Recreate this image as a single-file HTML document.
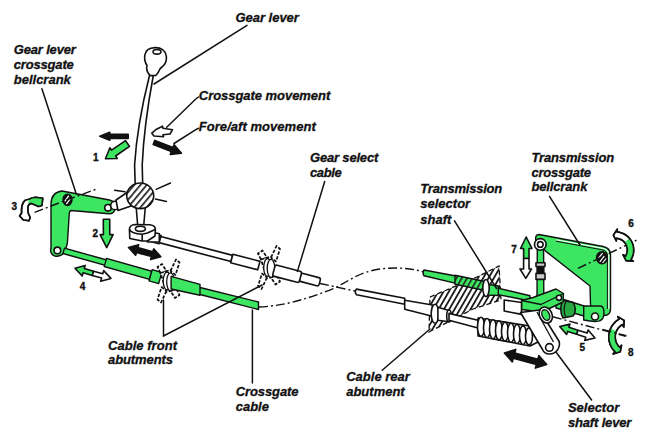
<!DOCTYPE html>
<html><head><meta charset="utf-8">
<style>
html,body{margin:0;padding:0;background:#fff;}
body{width:650px;height:438px;overflow:hidden;}
svg{display:block;}
.t{font-family:"Liberation Sans",sans-serif;font-style:italic;font-weight:bold;font-size:13px;fill:#111;stroke:#111;stroke-width:0.3;}
.n{font-family:"Liberation Sans",sans-serif;font-weight:bold;font-size:10px;fill:#111;stroke:#111;stroke-width:0.35;}
.ln{stroke:#111;stroke-width:1.5;fill:none;stroke-linecap:round;}
.ol{stroke:#111;stroke-width:1.6;stroke-linejoin:round;}
.g{fill:#3ce660;}
.ol .g{stroke-width:1.4;}
.w{fill:#fff;}
.k{fill:#111;}
.dd{stroke:#111;stroke-width:1.4;fill:none;stroke-dasharray:9 3 2 3;}
</style></head>
<body>
<svg width="650" height="438" viewBox="0 0 650 438">
<defs>
<pattern id="hat" patternUnits="userSpaceOnUse" width="4" height="4" patternTransform="rotate(-45)">
<rect width="4" height="4" fill="#fff"/><rect width="1.6" height="4" fill="#111"/>
</pattern>
<pattern id="hatF" patternUnits="userSpaceOnUse" width="4.8" height="4.8" patternTransform="rotate(40)">
<rect width="4.8" height="4.8" fill="#fff"/><rect width="1.7" height="4.8" fill="#222"/>
</pattern>
<pattern id="hatR" patternUnits="userSpaceOnUse" width="4.6" height="4.6" patternTransform="rotate(30)">
<rect width="4.6" height="4.6" fill="#fff"/><rect width="1.8" height="4.6" fill="#1a1a1a"/>
</pattern>
<pattern id="hatG" patternUnits="userSpaceOnUse" width="4.6" height="4.6" patternTransform="rotate(30)">
<rect width="4.6" height="4.6" fill="#3ce660"/><rect width="1.5" height="4.6" fill="#1a1a1a"/>
</pattern>
<pattern id="hat2" patternUnits="userSpaceOnUse" width="5" height="5" patternTransform="rotate(30)">
<rect width="5" height="5" fill="#fff"/><rect width="1.5" height="5" fill="#222"/>
</pattern>
</defs>

<!-- ===== LEFT BELLCRANK ===== -->
<g class="ol">
<path class="g" d="M62,191 L109.5,200 C114,201 116,205 115,209 C114,212.5 112,214 109,213.8 L71,210.5 Q69.5,211 69.3,213 L67.4,243 L66,248 C65,254 60,257 55,256 C51,255 50,251 51,248 L51,204 C51,197 54,192 62,191 Z"/>
<ellipse cx="67.5" cy="199.8" rx="4.4" ry="5.6" fill="#111"/>
<path d="M64.8,201.3 L68.8,195.6 M66.4,204.2 L70.4,198.5" stroke="#fff" stroke-width="1.3" fill="none"/>
<circle class="w" cx="108" cy="207.8" r="3.3"/>
<circle class="w" cx="57.4" cy="250.4" r="3.3"/>
<circle class="w" cx="115" cy="205.5" r="4.3"/>
</g>

<!-- ===== FRONT GREEN CROSSGATE ROD ===== -->
<g class="ol" transform="translate(66.6,251.6) rotate(15.75)">
<rect class="g" x="-3" y="-2.8" width="44" height="5.6"/>
<rect class="g" x="40.3" y="-4.2" width="47" height="8.4"/>
<rect class="g" x="87.3" y="-5.8" width="10" height="11.6"/>
</g>

<!-- ===== GEAR SELECT CABLE (white) ===== -->
<g class="ol" transform="translate(160,239.6) rotate(14.73)">
<rect class="w" x="-13.5" y="-4.3" width="13.5" height="8.6"/>
<rect class="w" x="0" y="-3.2" width="74.2" height="6.4"/>
<rect class="w" x="74.2" y="-4.4" width="28" height="8.8"/>
</g>

<!-- ===== FRONT ABUTMENTS ===== -->
<defs>
<g id="abut">
<g fill="#fff" stroke="#111" stroke-width="1.7" stroke-dasharray="3.5 1.5" stroke-linejoin="round">
<path d="M-8,-8 L-11,-14 L-6.5,-17 L-2,-10 Z"/>
<path d="M8,8 L11,14 L6.5,17 L2,10 Z"/>
<path d="M2,-10 L7.5,-21.5 L11,-18.5 L7,-6 Z"/>
<path d="M-2,10 L-7.5,21.5 L-11,18.5 L-7,6 Z"/>
<path d="M-8,-8 L2,-11 L8,8 L-2,11 Z"/>
</g>
<ellipse cx="-1.5" cy="0" rx="3.8" ry="9" fill="#fff" stroke="#111" stroke-width="1.3"/>
<ellipse cx="2" cy="0.8" rx="3.8" ry="9" fill="#fff" stroke="#111" stroke-width="1.3"/>
</g>
</defs>
<use href="#abut" x="168.5" y="281"/>
<use href="#abut" x="269" y="267.5"/>
<g class="ol">
<path class="g" d="M199,287.2 L258.5,302 L258.5,309.5 L199,294.3 Z"/>
<path class="g" d="M171.1,276.3 L200,284.3 L200,295.2 L171.1,289 Z"/>
</g>
<g class="ol" transform="translate(160,239.6) rotate(14.73)">
<rect class="w" x="145.1" y="-3.6" width="20.2" height="8.4" rx="2"/>
<rect class="w" x="117.9" y="-5" width="27.5" height="11.5" rx="2"/>
</g>

<!-- ===== DASH-DOT CABLE PATHS ===== -->
<path class="dd" d="M259,307 C285,306 310,298 335,288 C350,280 360,272 380,269 C395,267 410,268 424,272"/>
<path class="dd" d="M320,283.5 L355,291"/>

<!-- ===== REAR HATCHED ABUTMENT ===== -->
<path d="M430,297 L477,277 L499,266 L501,300 L473,309 L429,332 Z" fill="url(#hatR)" stroke="#111" stroke-width="1.3" stroke-dasharray="5 3"/>

<!-- ===== RIGHT GREEN SELECTOR ROD (upper) ===== -->
<g class="ol">
<path class="g" d="M424,270 L456,276 L456,283.4 L424,275.8 Q422,273 424,270 Z"/>
<path d="M455,275.3 L485,281.5 L485,290.5 L455,284.3 Z" fill="url(#hatG)" stroke-width="1.4"/>
<path class="g" d="M498.3,288.2 L530,295.8 L530,301 L498.3,294.6 Z"/>
<path class="g" d="M487,284.2 L498.3,286 L498.3,295.5 L487,295 Z"/>
<ellipse class="w" cx="486" cy="288" rx="3.2" ry="8.5"/>
</g>


<!-- ===== REAR WHITE CABLE ===== -->
<g class="ol">
<path class="w" d="M356.5,289.1 L404.7,298.2 L404.7,304.2 L356.5,294.8 Q354,292 356.5,289.1 Z"/>
<path class="w" d="M404.7,300.2 L432.4,305 L432.4,316.2 L404.7,309.2 Z"/>
<ellipse class="w" cx="435" cy="313.8" rx="3.8" ry="9.5"/>
<path class="w" d="M437.9,307.2 L449,310.6 L449,321.7 L437.9,320.3 Z"/>
<ellipse class="w" cx="449" cy="316" rx="2.3" ry="6"/>
<path class="w" d="M449,313.4 L478,320.3 L478,327.9 L449,320.3 Z"/>
</g>

<!-- ===== BELLOWS ===== -->
<g class="ol" stroke-width="1.3">
<path class="w" d="M478,318 L530,326 L540,334 L538,342 L530,346 L478,336 Z"/>
<ellipse class="w" cx="481" cy="326.8" rx="3.5" ry="9.5"/>
<ellipse class="w" cx="487" cy="328" rx="3.5" ry="9.5"/>
<ellipse class="w" cx="493" cy="329.2" rx="3.5" ry="9.5"/>
<ellipse class="w" cx="499" cy="330.4" rx="3.5" ry="9.5"/>
<ellipse class="w" cx="505" cy="331.6" rx="3.5" ry="9.5"/>
<ellipse class="w" cx="511" cy="332.8" rx="3.5" ry="9.5"/>
<ellipse class="w" cx="517" cy="334" rx="3.5" ry="9.5"/>
<ellipse class="w" cx="523" cy="335.2" rx="3.5" ry="9.3"/>
<ellipse class="w" cx="529" cy="336.4" rx="3.5" ry="8.5"/>
</g>

<!-- ===== RIGHT BELLCRANK PLATE ===== -->
<g class="ol">
<path class="g" d="M539,234.5 L603,246.5 C608,247.5 610.5,250 610.5,255 L610.5,309 C610.5,313 608,315.5 604,315.5 L592,314 L590.5,304 L590,286 L546.2,251.6 L536,242 C535,237 536,234.5 539,234.5 Z"/>
<ellipse cx="602" cy="257.8" rx="5.4" ry="5.9" fill="#111"/>
<path d="M598.3,258.5 L602.5,253.2 M599.8,261.8 L605,255.2 M602.6,263 L606.2,258.5" stroke="#fff" stroke-width="1.2" fill="none"/>
<path d="M556,239.7 L602.5,248.3 C606.5,249.1 608.8,251.2 608.8,255.2 L608.8,309" fill="none" stroke="#fff" stroke-width="1.1"/>
<path d="M556,241.2 L602,249.8 C605.5,250.6 607.4,252.3 607.4,255.7 L607.4,309" fill="none" stroke="#111" stroke-width="1"/>
<!-- vertical link -->
<path class="g" d="M537.3,249 L543.6,249 L543.8,297 L537,297 Z"/>
<rect class="k" x="537.5" y="266.5" width="6" height="7"/>
<rect fill="#ccc" x="536" y="262.7" width="9" height="3.8"/>
<rect fill="#ccc" x="536" y="273.4" width="9" height="6"/>
<circle class="w" cx="540.3" cy="244.4" r="5.8"/>
<circle class="w" cx="540.3" cy="244.4" r="2.8"/>
<!-- lower rod end & nut -->
<path class="g" d="M556,297 L584,306 L584,316 L556,308 Z"/>
<path class="g" d="M583.7,306 L600,306 C604,306 605,312 603,318 C601,322 596,322 590,321 L583.7,320 Z"/>
<circle class="w" cx="595" cy="316.5" r="3.5"/>
<path d="M563,300.5 L573,302.5 C576,306 576,313 573,316 L563,318 C560,313 560,305 563,300.5 Z" fill="#27a842"/>
<path d="M566,301.5 C563.5,306 563.5,313 566,317.5" fill="none" stroke-width="1.2"/>
<!-- selector lever hub block -->
<path class="g" d="M521.5,300.5 L533,297.5 L556,289 L563.5,293.5 L563,302 L542,312 L521.5,309.5 Z"/>
<path d="M521.5,300.5 L541,304.5 L563.5,293.5" fill="none" stroke-width="1.3"/>
<circle class="w" cx="559" cy="297.8" r="2.6"/>
<!-- white block -->
<path class="w" d="M504.2,300 L521.5,302.5 L521.5,314.4 L504.2,311 Z"/>
<!-- selector shaft lever arm -->
<path class="w" d="M520.5,312.5 L539.5,310 L559.2,341.5 C560.5,348 556,354 549.5,354 C546,354 543.5,352 542.5,349.5 Z"/>
<path d="M537,312 L553.5,342" fill="none" stroke-width="1.3"/>
<circle class="w" cx="549.4" cy="347.4" r="3.8"/>
<ellipse class="w" cx="545.8" cy="315" rx="6.2" ry="8.3" transform="rotate(-25 545.8 315)"/>
<ellipse class="g" cx="545.8" cy="315" rx="3.6" ry="5.6" transform="rotate(-25 545.8 315)" stroke-width="1.1"/>
</g>
<path class="dd" d="M578,268.4 L637,240"/>
<path class="dd" d="M552.8,316.8 L625.8,336.2"/>

<!-- ===== GEAR LEVER ===== -->
<g id="lever" class="ol">
<path class="w" d="M149.5,75.5 Q137,125 134.6,165 L135.2,185 L142.7,185 L142.2,165 Q144,125 153.3,75.5 Z"/>
<path class="w" d="M150.3,75.5 C148,73.5 146.8,71 146.7,68.5 C146.3,67 147.3,66.3 147,65.5 C145,62.5 144.3,58.5 144.8,55 C145.5,50.5 149.5,47.8 155,47.6 C161,47.4 165.5,50.5 166.3,56 C167,61 165.5,64 162.5,66.5 C160.5,68 159.6,69 159.5,70 C158.5,72.5 157.2,74 155.8,75.5 Z"/>
<ellipse class="w" cx="157" cy="51.8" rx="4" ry="2.3"/>
<!-- arm to left bellcrank -->
<path class="w" d="M130,190.5 L116,200 L118,210.5 L134,205 Z"/>
<!-- lower shaft -->
<path class="w" d="M136,205 L137.8,227 L143.6,227 L145.5,205 Z"/>
<!-- ball -->
<ellipse cx="140.2" cy="195.8" rx="13.5" ry="12.8" fill="url(#hatF)"/>
</g>
<g class="ln" stroke-width="1.1">
<path d="M114.6,190.2 L125,191.8"/>
<path d="M156.1,189.4 L170.5,183"/>
<path d="M155.3,199 L166.5,201.4"/>
</g>
<!-- eye block -->
<g class="ol">
<path class="w" d="M147.4,231 L159.3,233.8 L159.3,241.8 L147.4,242 Z"/>
<path class="w" d="M129.4,229 Q130,224.8 135,224.5 L150,224.8 Q155.5,225.5 155.4,229.5 L155,236 L147.4,241 L142.2,241 L129.8,238.5 Z"/>
<path d="M129.6,229.5 Q131,233.5 142.2,234.2 L147.4,233 L155.2,229.5 M142.2,234.2 L142.2,241" fill="none"/>
<ellipse class="w" cx="140.4" cy="228.8" rx="5" ry="2.6"/>
</g>

<!-- ===== ARROWS ===== -->
<g id="arrows" stroke="#111" stroke-width="1.6" stroke-linejoin="round">
<path class="k" d="M128.2,138.4 L109.8,138.3 L109.8,140.3 L99.8,136.3 L109.8,132.3 L109.8,134.3 L128.2,134.4 Z"/>
<path class="g" d="M129.5,146.4 L115.6,156.0 L117.3,158.5 L105.4,158.8 L109.9,147.8 L111.6,150.2 L125.5,140.6 Z"/>
<path class="w" d="M151.8,133.2 L156,129.5 L162.5,126.2 L163,128.3 L172.5,129.7 L170,134 L163,134.8 L163.5,136.8 L154,136 Z"/>
<path class="k" d="M154.8,140.4 L173.0,147.5 L174.1,144.7 L181.5,153.2 L170.3,154.4 L171.4,151.6 L153.2,144.6 Z"/>
<path class="g" d="M109.7,219.3 L109.8,234.6 L113.1,234.6 L106.7,247.6 L100.1,234.6 L103.4,234.6 L103.3,219.3 Z"/>
<path class="k" d="M128.5,247.5 L138.7,244.7 L137.8,247.6 L152.8,251.8 L153.7,248.9 L160.8,256.7 L150.6,259.5 L151.5,256.6 L136.5,252.4 L135.6,255.3 Z"/>
<path class="k" d="M504.4,353.0 L515.8,349.4 L514.8,352.9 L537.8,359.2 L538.8,355.6 L546.7,364.5 L535.3,368.1 L536.3,364.6 L513.3,358.3 L512.3,361.9 Z"/>
<path class="g" d="M75.0,268.2 L85.2,265.4 L84.3,268.5 L93.6,271.2 L92.3,275.4 L83.1,272.8 L82.2,276.0 Z"/>
<path class="w" d="M93.6,271.2 L102.8,273.8 L103.7,270.6 L110.9,278.4 L100.7,281.2 L101.6,278.1 L92.3,275.4 Z"/>
<path class="g" d="M559.7,326.5 L570.0,324.1 L568.9,327.2 L578.0,330.2 L576.7,334.3 L567.6,331.4 L566.6,334.5 Z"/>
<path class="w" d="M578.0,330.2 L587.1,333.1 L588.1,330.0 L595.0,338.0 L584.7,340.4 L585.8,337.3 L576.7,334.3 Z"/>
<path class="g" d="M526.2,237.0 L532.0,248.5 L529.0,248.5 L529.0,258.5 L523.6,258.5 L523.6,248.5 L520.5,248.5 Z"/>
<path class="w" d="M529.0,258.5 L529.0,269 L531.5,269 L525.8,278.4 L520.0,269 L523.6,269 L523.6,258.5 Z"/>
<!-- arrow 3 -->
<path class="w" d="M29,199.2 Q32,197.5 35.4,197.2 L42.8,198.2 L41.9,205.4 L38.5,206.4 L34.6,204.8 L31.4,203.4 Q28,204 27.8,208 L28.2,213 L30.2,217.5 L29,220.8 L23.4,220 L19.6,216 L21.6,213 Q21,204 25,200.4 Q27,199.3 29,199.2 Z"/>
<path class="g" d="M28.6,199.3 Q32,197.5 35.4,197.2 L42.8,198.2 L41.9,205.4 L38.5,206.4 L34.6,204.8 L31.4,203.4 Q29.5,203.7 28.4,204.8 Z" stroke="none"/>
<path d="M29,199.2 Q32,197.5 35.4,197.2 L42.8,198.2 L41.9,205.4 L38.5,206.4 L34.6,204.8 L31.4,203.4 Q28,204 27.8,208 L28.2,213 L30.2,217.5 L29,220.8 L23.4,220 L19.6,216 L21.6,213 Q21,204 25,200.4 Q27,199.3 29,199.2 Z" fill="none"/>
<!-- arrow 6 -->
<path class="w" d="M613.4,235.1 L617.3,229.1 L617.1,231.9 L619.4,232.2 L621.6,232.9 L623.7,233.8 L625.7,235.0 L627.6,236.4 L629.2,238.0 L630.6,239.9 L631.8,241.9 L632.7,244.0 L633.3,246.3 L633.6,248.6 L633.7,250.9 L633.4,253.2 L632.9,255.4 L632.0,257.6 L630.9,259.6 L633.3,261.1 L626.1,260.6 L623.1,254.8 L625.5,256.3 L626.2,254.9 L626.8,253.5 L627.1,252.1 L627.3,250.6 L627.3,249.1 L627.0,247.6 L626.6,246.1 L626.1,244.7 L625.3,243.4 L624.4,242.2 L623.3,241.2 L622.1,240.2 L620.8,239.5 L619.5,238.9 L618.0,238.5 L616.5,238.2 L616.3,241.0 Z"/>
<path class="g" d="M629.4,238.3 L631.1,240.6 L632.4,243.2 L633.2,245.9 L633.7,248.7 L633.6,251.6 L633.2,254.4 L632.3,257.1 L630.9,259.6 L633.3,261.1 L626.1,260.6 L623.1,254.8 L625.5,256.3 L626.4,254.6 L626.9,252.9 L627.3,251.0 L627.3,249.2 L627.0,247.3 L626.4,245.6 L625.6,243.9 L624.5,242.4 Z" stroke="none"/>
<path d="M613.4,235.1 L617.3,229.1 L617.1,231.9 L619.4,232.2 L621.6,232.9 L623.7,233.8 L625.7,235.0 L627.6,236.4 L629.2,238.0 L630.6,239.9 L631.8,241.9 L632.7,244.0 L633.3,246.3 L633.6,248.6 L633.7,250.9 L633.4,253.2 L632.9,255.4 L632.0,257.6 L630.9,259.6 L633.3,261.1 L626.1,260.6 L623.1,254.8 L625.5,256.3 L626.2,254.9 L626.8,253.5 L627.1,252.1 L627.3,250.6 L627.3,249.1 L627.0,247.6 L626.6,246.1 L626.1,244.7 L625.3,243.4 L624.4,242.2 L623.3,241.2 L622.1,240.2 L620.8,239.5 L619.5,238.9 L618.0,238.5 L616.5,238.2 L616.3,241.0 Z" fill="none"/>
<!-- arrow 8 -->
<path class="w" d="M624.1,320.4 L617.8,316.6 L619.1,319.1 L617.2,320.4 L615.3,321.9 L613.7,323.7 L612.2,325.6 L611.0,327.6 L610.1,329.8 L609.4,332.1 L609.0,334.5 L608.8,336.9 L608.9,339.3 L609.3,341.6 L610.0,343.9 L610.9,346.1 L612.1,348.2 L613.5,350.1 L615.1,351.9 L613.2,353.9 L620.2,351.8 L621.5,345.3 L619.6,347.3 L618.4,346.1 L617.5,344.7 L616.7,343.3 L616.0,341.8 L615.6,340.2 L615.3,338.6 L615.2,336.9 L615.3,335.3 L615.6,333.6 L616.1,332.1 L616.7,330.5 L617.6,329.1 L618.6,327.8 L619.7,326.6 L621.0,325.5 L622.4,324.6 L623.8,327.0 Z"/>
<path class="g" d="M610.6,328.6 L609.5,331.6 L608.9,334.7 L608.8,337.8 L609.2,340.9 L610.0,344.0 L611.3,346.9 L613.0,349.5 L615.1,351.9 L613.2,353.9 L620.2,351.8 L621.5,345.3 L619.6,347.3 L618.1,345.7 L616.9,343.8 L616.0,341.8 L615.5,339.7 L615.2,337.6 L615.3,335.4 L615.7,333.2 L616.4,331.2 Z" stroke="none"/>
<path d="M624.1,320.4 L617.8,316.6 L619.1,319.1 L617.2,320.4 L615.3,321.9 L613.7,323.7 L612.2,325.6 L611.0,327.6 L610.1,329.8 L609.4,332.1 L609.0,334.5 L608.8,336.9 L608.9,339.3 L609.3,341.6 L610.0,343.9 L610.9,346.1 L612.1,348.2 L613.5,350.1 L615.1,351.9 L613.2,353.9 L620.2,351.8 L621.5,345.3 L619.6,347.3 L618.4,346.1 L617.5,344.7 L616.7,343.3 L616.0,341.8 L615.6,340.2 L615.3,338.6 L615.2,336.9 L615.3,335.3 L615.6,333.6 L616.1,332.1 L616.7,330.5 L617.6,329.1 L618.6,327.8 L619.7,326.6 L621.0,325.5 L622.4,324.6 L623.8,327.0 Z" fill="none"/>
</g>
<path class="dd" d="M34.6,212.4 L67.4,199.7 L96,189.3"/>
<path class="dd" d="M602.5,329.5 L626.4,335.8"/>

<!-- ===== LABELS ===== -->
<g id="labels">
<text class="t" x="235.4" y="22.3" textLength="63.5">Gear lever</text>
<text class="t" x="13.8" y="53.8" textLength="62">Gear lever</text>
<text class="t" x="13.8" y="68.5" textLength="60">crossgate</text>
<text class="t" x="13.8" y="84" textLength="57">bellcrank</text>
<text class="t" x="198.8" y="100" textLength="131.5">Crossgate movement</text>
<text class="t" x="198.8" y="130.7" textLength="117">Fore/aft movement</text>
<text class="t" x="310" y="162" textLength="68.3">Gear select</text>
<text class="t" x="310" y="177.2" textLength="31.8">cable</text>
<text class="t" x="531.4" y="161.8" textLength="82.8">Transmission</text>
<text class="t" x="531.4" y="176.5" textLength="59.6">crossgate</text>
<text class="t" x="531.4" y="191.3" textLength="56">bellcrank</text>
<text class="t" x="420.3" y="193" textLength="82">Transmission</text>
<text class="t" x="420.3" y="208.2">selector</text>
<text class="t" x="420.3" y="223.5">shaft</text>
<text class="t" x="108" y="349.6" textLength="69">Cable front</text>
<text class="t" x="108" y="364.4" textLength="65">abutments</text>
<text class="t" x="235.7" y="395.8" textLength="62.8">Crossgate</text>
<text class="t" x="235.7" y="411">cable</text>
<text class="t" x="346.2" y="380.5" textLength="63.6">Cable rear</text>
<text class="t" x="346.2" y="395.8">abutment</text>
<text class="t" x="567.9" y="412.2" textLength="51.3">Selector</text>
<text class="t" x="567.9" y="427" textLength="63.5">shaft lever</text>
</g>
<g id="nums">
<text class="n" x="93" y="160.6">1</text>
<text class="n" x="92.4" y="236.8">2</text>
<text class="n" x="11.6" y="210">3</text>
<text class="n" x="79.8" y="289.5">4</text>
<text class="n" x="579.4" y="350.8">5</text>
<text class="n" x="628.2" y="226.5">6</text>
<text class="n" x="511.2" y="253">7</text>
<text class="n" x="628" y="355.6">8</text>
</g>

<!-- ===== LEADER LINES ===== -->
<g class="ln">
<path d="M247,25.4 L154,84"/>
<path d="M41.9,88.8 L76.2,193.7"/>
<path d="M198.5,97 L195.8,99 L166.7,127.3"/>
<path d="M198.5,128.3 L195.8,129.6 L174,143.5"/>
<path d="M324.7,181.5 L297.4,271.4"/>
<path d="M549.5,196.3 L580,245"/>
<path d="M454.5,220.8 L496.6,288.5"/>
<path d="M163.5,300 L163.5,336 L262,285"/>
<path d="M252.4,310 L252.4,383"/>
<path d="M382.2,370.3 L430,329"/>
<path d="M591.6,400 L556,352"/>
</g>

</svg>
</body></html>
